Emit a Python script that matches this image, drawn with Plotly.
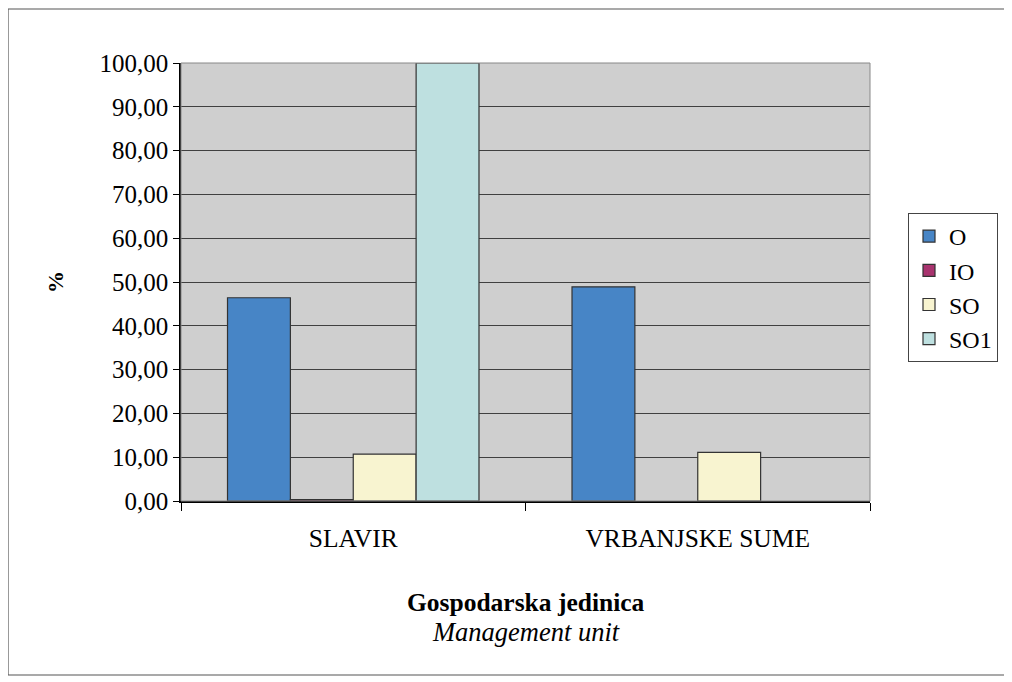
import plotly.graph_objects as go

units = ["SLAVIR", "VRBANJSKE SUME"]
series_names = ["O", "IO", "SO", "SO1"]
values = {
    "O": [46.4, 48.9],
    "IO": [0.3, None],
    "SO": [10.7, 11.1],
    "SO1": [100.0, None],
}
colors = {"O": "#4785C6", "IO": "#A8336E", "SO": "#F8F4D0", "SO1": "#BEE0E0"}
y_ticks = [0, 10, 20, 30, 40, 50, 60, 70, 80, 90, 100]

serif = "Liberation Serif"

# page body has an 8px margin, so the figure is laid out 8px smaller
W, H = 1004, 674
L, R, T, B = 173, 142, 55, 181
PW, PH = W - L - R, H - T - B


def px(x):
    return (x - L) / PW


def py(y):
    return 1 - (y - T) / PH


fig = go.Figure()
for name in series_names:
    fig.add_trace(go.Bar(
        name=name,
        x=units,
        y=values[name],
        marker=dict(color=colors[name], line=dict(color="#333333", width=1.2)),
    ))

fig.update_layout(
    width=W, height=H,
    barmode="group",
    bargap=0.27,
    bargroupgap=0,
    paper_bgcolor="white",
    plot_bgcolor="#CFCFCF",
    margin=dict(l=L, r=R, t=T, b=B),
    font=dict(family=serif, size=24, color="black"),
    showlegend=True,
    legend=dict(
        x=px(900), y=py(205), xanchor="left", yanchor="top",
        xref="paper", yref="paper",
        bordercolor="#444444", borderwidth=1, bgcolor="white",
        font=dict(family=serif, size=24),
        itemwidth=30,
    ),
    separators=", ",
)

fig.update_yaxes(
    range=[0, 100],
    tickvals=y_ticks,
    tickformat=".2f",
    ticks="outside", ticklen=6, tickcolor="black",
    tickfont=dict(family=serif, size=25),
    showgrid=True, gridcolor="#404040", gridwidth=1,
    showline=True, linecolor="black", linewidth=1.5,
    zeroline=False,
    title=dict(text="<b>%</b>", font=dict(family=serif, size=22), standoff=30),
)
fig.update_xaxes(
    tickson="boundaries",
    ticks="outside", ticklen=8, tickcolor="black",
    ticklabelstandoff=14,
    showline=True, linecolor="black", linewidth=1.5,
    tickfont=dict(family=serif, size=25.5),
)

# plot area frame and outer figure border
fig.add_shape(type="rect", xref="paper", yref="paper", x0=0, x1=1, y0=0, y1=1,
              line=dict(color="#888888", width=1), layer="above")
fig.add_shape(type="rect", xref="paper", yref="paper",
              x0=px(0), x1=px(997), y0=py(667), y1=py(1),
              line=dict(color="#555555", width=1.2))

fig.add_annotation(text="<b>Gospodarska jedinica</b>", xref="paper", yref="paper",
                   x=0.5, y=py(611), showarrow=False,
                   font=dict(family=serif, size=25.5))
fig.add_annotation(text="<i>Management unit</i>", xref="paper", yref="paper",
                   x=0.5, y=py(641), showarrow=False,
                   font=dict(family=serif, size=26.5))

fig.write_html("out.html")
